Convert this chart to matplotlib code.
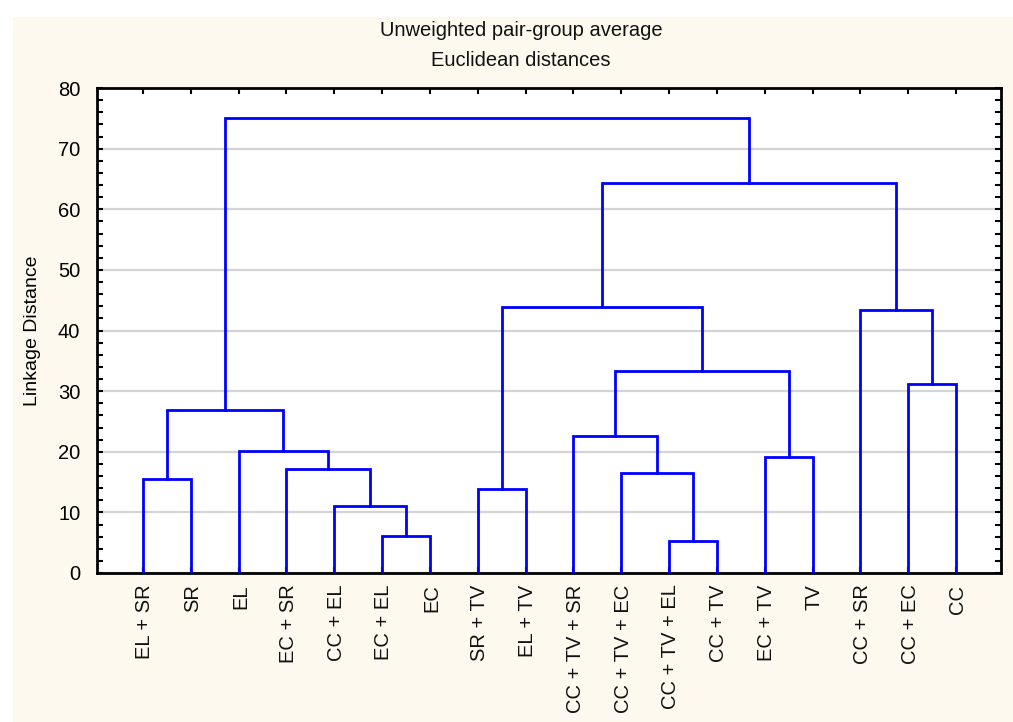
import matplotlib.pyplot as plt
from matplotlib.patches import Rectangle
from matplotlib.ticker import MultipleLocator, FixedLocator

plt.rcParams['font.family'] = ['Liberation Sans', 'DejaVu Sans']

# leaf labels in dendrogram order
leaves = ["EL + SR", "SR", "EL", "EC + SR", "CC + EL", "EC + EL", "EC",
          "SR + TV", "EL + TV", "CC + TV + SR", "CC + TV + EC", "CC + TV + EL",
          "CC + TV", "EC + TV", "TV", "CC + SR", "CC + EC", "CC"]

# linkage: (left id, right id, distance); ids >= len(leaves) are earlier merges
merge_left = [11, 5, 4, 7, 0, 10, 3, 13, 2, 9, 22, 16, 27, 15, 21, 32, 28]
merge_right = [12, 6, 19, 8, 1, 18, 20, 14, 24, 23, 26, 17, 25, 29, 30, 31, 33]
merge_dist = [5.3, 6.05, 11.1, 13.8, 15.5, 16.5, 17.15, 19.1, 20.15, 22.6,
              26.9, 31.2, 33.3, 43.4, 43.9, 64.3, 75.0]

fig = plt.figure(figsize=(10.13, 7.22), dpi=100)
fig.patches.append(Rectangle((13 / 1013, 0), 1, 1 - 17 / 722, transform=fig.transFigure,
                             facecolor="#fdf9ef", edgecolor="none", zorder=-10))

ax = fig.add_axes([97 / 1013, 149 / 722, 904 / 1013, 485 / 722])
ax.set_facecolor("white")

n = len(leaves)
xpos = {i: i + 1 for i in range(n)}
ypos = {i: 0.0 for i in range(n)}
for k, (a, b, d) in enumerate(zip(merge_left, merge_right, merge_dist)):
    ax.plot([xpos[a], xpos[a], xpos[b], xpos[b]], [ypos[a], d, d, ypos[b]],
            color="#0000ff", lw=2.0, solid_joinstyle="miter", zorder=3)
    xpos[n + k] = (xpos[a] + xpos[b]) / 2
    ypos[n + k] = d

ax.set_xlim(0.04, 18.94)
ax.set_ylim(0, 80)
ax.yaxis.set_major_locator(MultipleLocator(10))
ax.yaxis.set_minor_locator(MultipleLocator(2))
ax.xaxis.set_major_locator(FixedLocator(range(1, n + 1)))
ax.set_xticklabels([])
for i, lab in enumerate(leaves):
    ax.text(i + 1.04, -1.9, lab, rotation=90, ha="center", va="top", fontsize=14.5,
            color="#111111")

ax.grid(axis="y", which="major", color="#d4d4d4", lw=1.6, zorder=0)
ax.tick_params(axis="y", which="both", direction="in", left=True, right=True,
               length=4, width=1.5, labelsize=14.5, pad=12)
ax.tick_params(axis="x", which="major", direction="in", top=True, bottom=True,
               length=4, width=1.5)
for s in ax.spines.values():
    s.set_linewidth(2.0)

ax.set_ylabel("Linkage Distance", fontsize=14, labelpad=12)
fig.text(521 / 1013, 1 - 30 / 722, "Unweighted pair-group average", ha="center",
         va="center", fontsize=14.5, color="#111111")
fig.text(521 / 1013, 1 - 60 / 722, "Euclidean distances", ha="center",
         va="center", fontsize=14.5, color="#111111")

fig.savefig("out.png", dpi=100)
